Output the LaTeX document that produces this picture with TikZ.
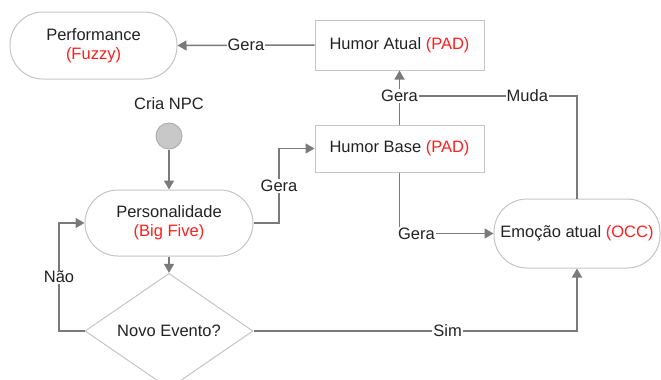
\documentclass[tikz,border=0pt]{standalone}
\usepackage{fontspec}
\setmainfont{Liberation Sans}
\usetikzlibrary{shapes.geometric,arrows.meta}
\definecolor{boxline}{HTML}{C4C4C4}
\definecolor{conn}{HTML}{7A7A7A}
\definecolor{txt}{HTML}{222222}
\definecolor{redt}{HTML}{FF1E1E}
\definecolor{dotfill}{HTML}{C8C8C8}
\tikzset{
  every node/.style={font=\fontsize{16.5}{20}\selectfont, text=txt},
  stadium/.style={draw=boxline, line width=1pt, rectangle, rounded corners=33pt, align=center, inner sep=0pt},
  boxn/.style={draw=boxline, line width=1pt, rectangle, inner sep=0pt},
  decision/.style={draw=boxline, line width=1pt, shape=diamond, inner sep=0pt, minimum width=168pt, minimum height=102pt},
  conline/.style={draw=conn, line width=1.5pt},
  arr/.style={conline, -{Triangle[length=9pt,width=10pt]}},
  lab/.style={fill=white, inner sep=1pt},
  red/.style={text=redt}
}
\begin{document}
\begin{tikzpicture}[x=1pt,y=-1pt]
\useasboundingbox (0,0) rectangle (661,380);
\node[stadium, minimum width=167pt, minimum height=67pt] (perf) at (93.5,45.5) {Performance\\[-1pt]\textcolor{redt}{(Fuzzy)}};
\node[boxn, minimum width=169pt, minimum height=50pt] (huma) at (399.5,45) {Humor Atual \textcolor{redt}{(PAD)}};
\node (cria) at (169,104) {Cria NPC};
\node[circle, draw=boxline!90!black, fill=dotfill, line width=1pt, minimum size=26pt, inner sep=0pt] (start) at (169,136) {};
\node[boxn, minimum width=169pt, minimum height=47pt] (humb) at (399.5,148.5) {Humor Base \textcolor{redt}{(PAD)}};
\node[stadium, minimum width=168pt, minimum height=66pt] (pers) at (169,223) {Personalidade\\[-1pt]\textcolor{redt}{(Big Five)}};
\node[decision] (nov) at (169,331) {Novo Evento?};
\node[stadium, minimum width=166pt, minimum height=69pt] (emo) at (577,233.5) {Emoção atual \textcolor{redt}{(OCC)}};
\coordinate (j) at (399.5,96);
\coordinate (gb) at (279,148.5);
\coordinate (nl) at (59,331);
% connectors
\draw[arr] (huma.west) -- node[lab, pos=0.5] {Gera} (perf.east);
\draw[arr] (start) -- (pers.north);
\draw[arr] (pers.east) -| node[lab, pos=0.75] {Gera} (gb) -- (humb.west);
\draw[arr] (pers.south) -- (nov.north);
\draw[arr] (nov.west) -- (nl) |- node[lab, pos=0.25] {Não} (pers.west);
\draw[arr] (nov.east) -| node[lab, pos=0.3] {Sim} (emo.south);
\draw[arr] (humb.south) |- node[lab, pos=0.59] {Gera} (emo.west);
\draw[conline] (emo.north) |- node[lab, pos=0.64] {Muda} (j);
\draw[arr] (humb.north) -- node[lab, pos=0.527] {Gera} (huma.south);
\end{tikzpicture}
\end{document}
